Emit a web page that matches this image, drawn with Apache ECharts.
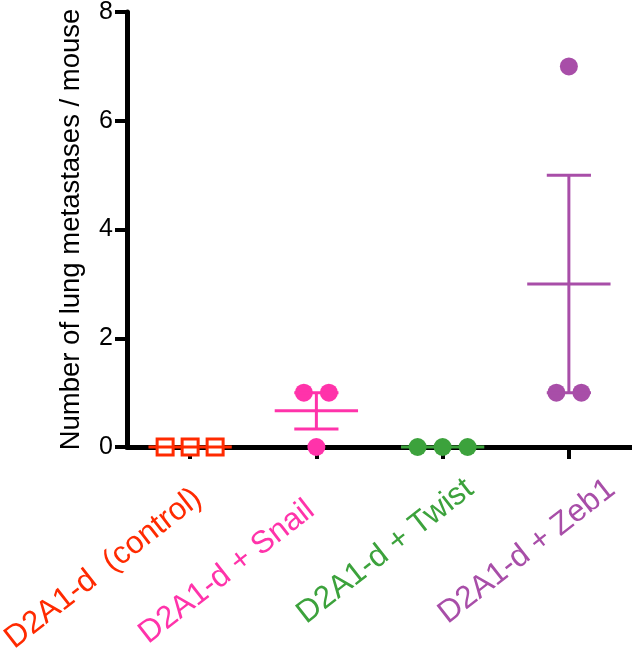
<!DOCTYPE html>
<html>
<head>
<meta charset="utf-8">
<script src="https://cdn.jsdelivr.net/npm/echarts@6/dist/echarts.min.js"></script>
<style>
  html, body { margin: 0; padding: 0; background: #fff; }
  #chart { width: 632px; height: 654px; }
</style>
</head>
<body>
<div id="chart"></div>
<script>
// groups on the x axis
const categories = ['D2A1-d  (control)', 'D2A1-d + Snail', 'D2A1-d + Twist', 'D2A1-d + Zeb1'];
// metastases per mouse, one array per group
const controlValues = [0, 0, 0];
const snailValues = [1, 0, 1];
const twistValues = [0, 0, 0];
const zeb1Values = [1, 7, 1];
const yTicks = [0, 2, 4, 6, 8];

const groups = [controlValues, snailValues, twistValues, zeb1Values];
const colors = ['#ff2a00', '#ff33aa', '#3ca23c', '#a84ea8'];
const symbols = ['rect', 'circle', 'circle', 'circle'];
// per label padding [top, right, bottom, left] so labels sit like the original
const labelPads = [[110, 33, 0, 0], [112, 51, 0, 0], [119, 12, 0, 0], [138, 0, 0, 0]];

const font = 'Liberation Sans, Arial, Helvetica, sans-serif';

// mean and standard error of each group
function stats(arr) {
  const n = arr.length;
  const mean = arr.reduce((a, b) => a + b, 0) / n;
  const sd = Math.sqrt(arr.reduce((a, b) => a + (b - mean) * (b - mean), 0) / (n - 1));
  const sem = sd / Math.sqrt(n);
  return { mean, sem };
}

// spread equal values sideways, like a column scatter plot
function jitter(arr) {
  const step = 25;
  return arr.map((v, i) => {
    const same = [];
    arr.forEach((w, j) => { if (w === v) same.push(j); });
    const k = same.indexOf(i);
    return (k - (same.length - 1) / 2) * step;
  });
}

const series = [];
groups.forEach((vals, gi) => {
  const offs = jitter(vals);
  series.push({
    type: 'scatter',
    z: 2,
    symbol: symbols[gi],
    symbolSize: gi === 0 ? 16 : 18,
    itemStyle: gi === 0
      ? { color: '#fff', borderColor: colors[0], borderWidth: 3, opacity: 1 }
      : { color: colors[gi], opacity: 1 },
    data: vals.map((v, i) => ({ value: [gi, v], symbolOffset: [offs[i], 0] }))
  });
  const s = stats(vals);
  series.push({
    type: 'custom',
    z: 3,
    data: [[gi, s.mean, s.mean - s.sem, s.mean + s.sem]],
    renderItem: function (params, api) {
      const band = api.size([1, 0])[0];
      const c = api.coord([api.value(0), api.value(1)]);
      const lo = api.coord([api.value(0), api.value(2)]);
      const hi = api.coord([api.value(0), api.value(3)]);
      const st = { stroke: colors[gi], lineWidth: 3 };
      const half = band * 0.33, cap = band * 0.175;
      const kids = [
        { type: 'line', shape: { x1: c[0] - half, y1: c[1], x2: c[0] + half, y2: c[1] }, style: st }
      ];
      if (Math.abs(hi[1] - lo[1]) > 0.5) {
        kids.push({ type: 'line', shape: { x1: c[0], y1: lo[1], x2: c[0], y2: hi[1] }, style: st });
        kids.push({ type: 'line', shape: { x1: c[0] - cap, y1: lo[1], x2: c[0] + cap, y2: lo[1] }, style: st });
        kids.push({ type: 'line', shape: { x1: c[0] - cap, y1: hi[1], x2: c[0] + cap, y2: hi[1] }, style: st });
      }
      return { type: 'group', children: kids };
    }
  });
});

const rich = {};
colors.forEach((c, i) => {
  rich['c' + i] = { color: c, fontSize: 31.5, fontFamily: font, padding: labelPads[i] };
});

const chart = echarts.init(document.getElementById('chart'));
chart.setOption({
  animation: false,
  backgroundColor: '#fff',
  grid: { left: 127, right: 0, top: 12, bottom: 207, containLabel: false, outerBoundsMode: 'none' },
  xAxis: {
    type: 'category',
    data: categories,
    axisLine: { show: true, lineStyle: { color: '#000', width: 5 } },
    axisTick: { show: true, alignWithLabel: true, length: 12, lineStyle: { color: '#000', width: 4 } },
    axisLabel: {
      interval: 0,
      rotate: 38,
      margin: -16,
      formatter: (v, i) => '{c' + i + '|' + v + '}',
      rich: rich
    },
    splitLine: { show: false }
  },
  yAxis: {
    type: 'value',
    min: yTicks[0],
    max: yTicks[yTicks.length - 1],
    interval: yTicks[1] - yTicks[0],
    name: 'Number of lung metastases / mouse',
    nameLocation: 'middle',
    nameGap: 42,
    nameTextStyle: { color: '#000', fontSize: 27.5, fontFamily: font },
    axisLine: { show: true, lineStyle: { color: '#000', width: 5 } },
    axisTick: { show: true, length: 12, lineStyle: { color: '#000', width: 4 } },
    axisLabel: { color: '#000', fontSize: 25, fontFamily: font, margin: 14 },
    splitLine: { show: false }
  },
  series: series
});
</script>
</body>
</html>
